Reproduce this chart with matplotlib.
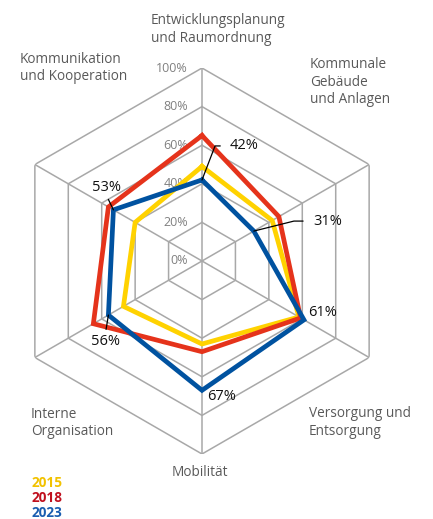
import numpy as np
import matplotlib
matplotlib.use("Agg")
import matplotlib.pyplot as plt

plt.rcParams['font.family'] = ['Open Sans', 'DejaVu Sans']

categories = [
    "Entwicklungsplanung\nund Raumordnung",
    "Kommunale\nGebäude\nund Anlagen",
    "Versorgung und\nEntsorgung",
    "Mobilität",
    "Interne\nOrganisation",
    "Kommunikation\nund Kooperation",
]
years = ["2015", "2018", "2023"]
values_2015 = [49, 42, 58, 43, 47, 40]
values_2018 = [65, 46, 59, 47, 65, 56]
values_2023 = [42, 31, 61, 67, 56, 53]
ring_ticks = [0, 20, 40, 60, 80, 100]
ring_labels = ["0%", "20%", "40%", "60%", "80%", "100%"]

line_colors = ["#FFD200", "#E5331B", "#0052A0"]
legend_colors = ["#F2C200", "#C0101E", "#1A5EB0"]
series = [values_2015, values_2018, values_2023]

W, H = 433, 519
fig = plt.figure(figsize=(W / 100, H / 100), dpi=100)

cx, cy, R = 202, 261, 193
ax = fig.add_axes([(cx - R) / W, (H - cy - R) / H, 2 * R / W, 2 * R / H],
                  projection='polar')
ax.set_theta_zero_location('N')
ax.set_theta_direction(-1)
ax.set_ylim(0, 100)
ax.grid(False)
ax.set_xticks([])
ax.set_yticks([])
ax.spines['polar'].set_visible(False)
ax.patch.set_alpha(0)

n = len(categories)
theta = np.arange(n) * 2 * np.pi / n
theta_closed = np.append(theta, theta[0])

grid_color = "#A8A8A8"
for r in ring_ticks[1:]:
    ax.plot(theta_closed, [r] * (n + 1), color=grid_color, lw=1.1, zorder=1)
for t in theta:
    ax.plot([t, t], [0, 100], color=grid_color, lw=1.1, zorder=1)

for r, lab in zip(ring_ticks, ring_labels):
    ax.annotate(lab, xy=(0, r), xytext=(-14, 0), textcoords='offset pixels',
                ha='right', va='center', fontsize=9, color="#808080", zorder=2)

for vals, col in zip(series, line_colors):
    v = list(vals) + [vals[0]]
    ax.plot(theta_closed, v, color=col, lw=3.4, solid_joinstyle='miter',
            zorder=3)

# data labels for 2023
lab_kw = dict(textcoords='offset pixels', fontsize=10.5, color="#111111", zorder=5)
arrow = dict(arrowstyle='-', color='black', lw=0.9, shrinkB=0)
v23 = values_2023
ax.annotate(f"{v23[0]}%", xy=(theta[0], v23[0]), xytext=(28, 34), ha='left', va='center',
            arrowprops=dict(arrow, relpos=(0, 0.5), shrinkA=5,
                            connectionstyle='angle,angleA=0,angleB=69,rad=0'), **lab_kw)
ax.annotate(f"{v23[1]}%", xy=(theta[1], v23[1]), xytext=(59, 10), ha='left', va='center',
            arrowprops=dict(arrow, relpos=(0, 0.5), shrinkA=5,
                            connectionstyle='angle,angleA=0,angleB=14,rad=0'), **lab_kw)
ax.annotate(f"{v23[2]}%", xy=(theta[2], v23[2]), xytext=(4, 7), ha='left', va='center', **lab_kw)
ax.annotate(f"{v23[3]}%", xy=(theta[3], v23[3]), xytext=(5, -6), ha='left', va='center', **lab_kw)
ax.annotate(f"{v23[4]}%", xy=(theta[4], v23[4]), xytext=(-3, -26), ha='center', va='center',
            arrowprops=dict(arrow, relpos=(0.5, 1), shrinkA=1), **lab_kw)
ax.annotate(f"{v23[5]}%", xy=(theta[5], v23[5]), xytext=(-7, 22), ha='center', va='center',
            arrowprops=dict(arrow, relpos=(0.5, 0), shrinkA=1), **lab_kw)

# category labels
cat_pos = [(151, 29.5, 'left'), (310, 82, 'left'), (309, 422.5, 'left'),
           (200, 472, 'center'), (31, 423, 'left'), (20, 68, 'left')]
for lab, (x, y, ha) in zip(categories, cat_pos):
    fig.text(x / W, 1 - y / H, lab, ha=ha, va='center', fontsize=9.8,
             color="#595959", linespacing=1.2, multialignment='left')

# legend
for i, (yr, col) in enumerate(zip(years, legend_colors)):
    fig.text(32 / W, 1 - (483 + 15 * i) / H, yr, ha='left', va='center',
             fontsize=9.8, fontweight='bold', color=col)

fig.savefig("out.png", dpi=100)
